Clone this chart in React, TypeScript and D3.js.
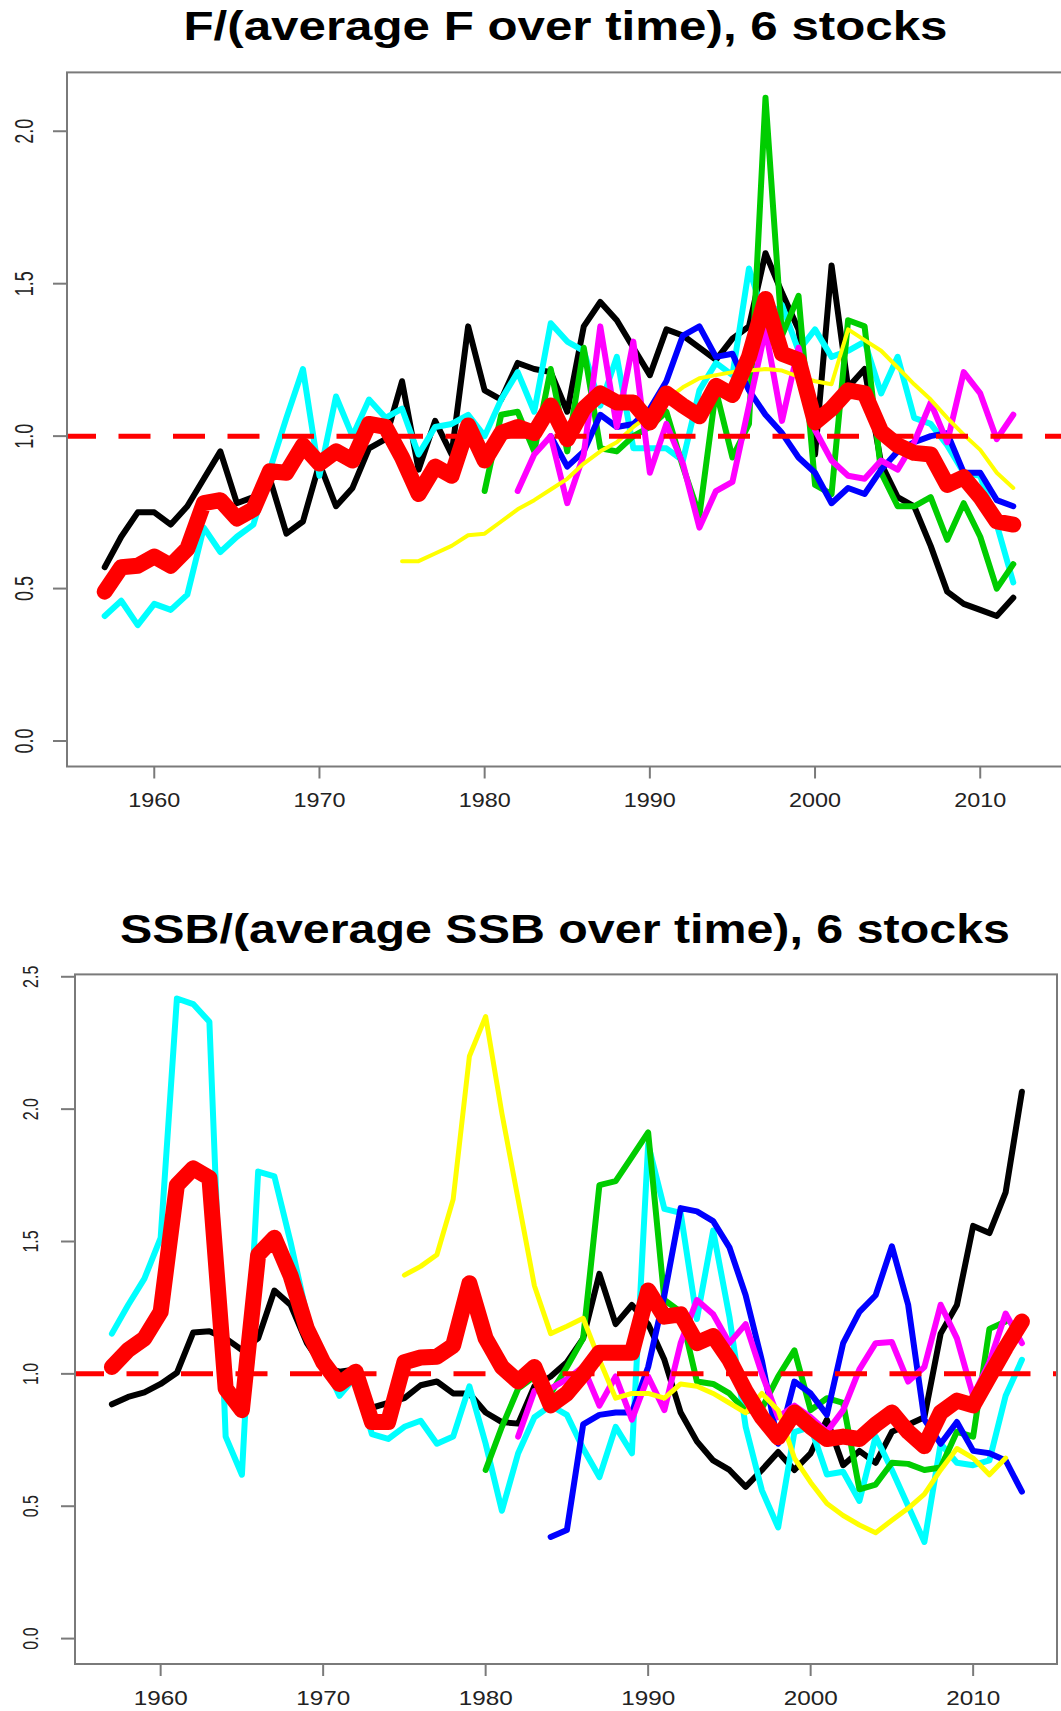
import React from "react";
import * as d3 from "d3";

// ---------- DATA: top panel, F / (average F over time) ----------
const fBlackStart = 1957;
const fBlack = [0.57, 0.67, 0.75, 0.75, 0.71, 0.77, 0.86, 0.95, 0.78, 0.8, 0.86, 0.68, 0.72, 0.91, 0.77, 0.83, 0.96, 0.99, 1.18, 0.89, 1.05, 0.94, 1.36, 1.15, 1.12, 1.24, 1.22, 1.21, 1.08, 1.36, 1.44, 1.38, 1.29, 1.2, 1.35, 1.33, 1.29, 1.25, 1.32, 1.36, 1.6, 1.47, 1.35, 0.94, 1.56, 1.16, 1.22, 0.91, 0.8, 0.77, 0.64, 0.49, 0.45, 0.43, 0.41, 0.47];
const fCyanStart = 1957;
const fCyan = [0.41, 0.46, 0.38, 0.45, 0.43, 0.48, 0.7, 0.62, 0.67, 0.71, 0.89, 1.06, 1.22, 0.87, 1.13, 1.0, 1.12, 1.06, 1.09, 0.94, 1.03, 1.04, 1.07, 1.0, 1.12, 1.21, 1.08, 1.37, 1.31, 1.28, 1.1, 1.26, 0.96, 0.96, 0.96, 0.92, 1.15, 1.24, 1.2, 1.55, 1.38, 1.43, 1.28, 1.35, 1.26, 1.28, 1.31, 1.14, 1.26, 1.06, 1.04, 0.97, 0.88, 0.87, 0.71, 0.52];
const fGreenStart = 1980;
const fGreen = [0.82, 1.07, 1.08, 0.95, 1.22, 0.95, 1.29, 0.96, 0.95, 1.0, 1.03, 1.08, 0.9, 0.74, 1.15, 0.93, 1.04, 2.11, 1.33, 1.46, 0.84, 0.81, 1.38, 1.36, 0.88, 0.77, 0.77, 0.8, 0.66, 0.78, 0.67, 0.5, 0.58];
const fBlueStart = 1984;
const fBlue = [1.0, 0.9, 0.95, 1.07, 1.03, 1.04, 1.09, 1.18, 1.33, 1.36, 1.26, 1.27, 1.15, 1.07, 1.01, 0.93, 0.88, 0.78, 0.83, 0.81, 0.89, 0.95, 0.98, 1.0, 1.01, 0.88, 0.88, 0.79, 0.77];
const fMagentaStart = 1982;
const fMagenta = [0.82, 0.94, 1.0, 0.78, 0.94, 1.36, 1.03, 1.31, 0.88, 1.04, 0.91, 0.7, 0.82, 0.85, 1.1, 1.35, 1.05, 1.29, 1.02, 0.92, 0.87, 0.86, 0.92, 0.89, 0.98, 1.11, 0.98, 1.21, 1.14, 0.99, 1.07];
const fYellowStart = 1975;
const fYellow = [0.59, 0.59, 0.615, 0.64, 0.675, 0.68, 0.72, 0.76, 0.79, 0.825, 0.86, 0.91, 0.95, 0.98, 1.03, 1.07, 1.12, 1.16, 1.19, 1.2, 1.21, 1.215, 1.22, 1.215, 1.195, 1.18, 1.17, 1.35, 1.315, 1.28, 1.225, 1.17, 1.12, 1.06, 1.005, 0.955, 0.88, 0.83];
const fMeanStart = 1957;
const fMean = [0.49, 0.57, 0.575, 0.605, 0.575, 0.63, 0.78, 0.79, 0.73, 0.76, 0.885, 0.88, 0.97, 0.91, 0.95, 0.92, 1.04, 1.03, 0.93, 0.81, 0.9, 0.87, 1.035, 0.92, 1.01, 1.03, 1.01, 1.1, 0.99, 1.09, 1.14, 1.11, 1.11, 1.045, 1.14, 1.1, 1.065, 1.165, 1.135, 1.26, 1.45, 1.27, 1.25, 1.045, 1.09, 1.15, 1.14, 1.015, 0.97, 0.945, 0.94, 0.84, 0.865, 0.8, 0.72, 0.71];

// ---------- DATA: bottom panel, SSB / (average SSB over time) ----------
const sBlackStart = 1957;
const sBlack = [0.885, 0.913, 0.93, 0.962, 1.004, 1.156, 1.161, 1.134, 1.09, 1.134, 1.315, 1.26, 1.116, 1.026, 1.008, 1.017, 0.872, 0.89, 0.908, 0.957, 0.971, 0.926, 0.926, 0.854, 0.818, 0.812, 0.953, 0.99, 1.044, 1.134, 1.378, 1.188, 1.26, 1.188, 1.053, 0.854, 0.745, 0.673, 0.637, 0.573, 0.637, 0.705, 0.637, 0.7, 0.827, 0.655, 0.709, 0.664, 0.781, 0.808, 0.836, 1.152, 1.26, 1.559, 1.532, 1.686, 2.066];
const sCyanStart = 1957;
const sCyan = [1.152, 1.26, 1.36, 1.514, 2.418, 2.397, 2.33, 0.763, 0.619, 1.764, 1.746, 1.496, 1.22, 1.05, 0.917, 0.99, 0.772, 0.754, 0.8, 0.823, 0.736, 0.763, 0.953, 0.736, 0.483, 0.7, 0.836, 0.88, 0.845, 0.718, 0.61, 0.8, 0.7, 1.867, 1.623, 1.608, 1.207, 1.541, 1.216, 0.8, 0.56, 0.42, 0.78, 0.8, 0.62, 0.63, 0.52, 0.763, 0.637, 0.501, 0.365, 0.736, 0.664, 0.655, 0.673, 0.917, 1.053];
const sGreenStart = 1980;
const sGreen = [0.637, 0.8, 0.944, 0.99, 0.926, 1.026, 1.134, 1.713, 1.728, 1.82, 1.912, 1.279, 1.234, 0.971, 0.962, 0.926, 0.86, 0.87, 0.99, 1.089, 0.863, 0.908, 0.89, 0.564, 0.582, 0.664, 0.66, 0.637, 0.646, 0.781, 0.763, 1.17, 1.198];
const sBlueStart = 1984;
const sBlue = [0.384, 0.41, 0.809, 0.845, 0.854, 0.854, 1.026, 1.297, 1.626, 1.614, 1.577, 1.478, 1.297, 1.05, 0.736, 0.971, 0.926, 0.845, 1.116, 1.234, 1.297, 1.482, 1.261, 0.827, 0.736, 0.818, 0.709, 0.7, 0.673, 0.555];
const sMagentaStart = 1982;
const sMagenta = [0.763, 0.935, 0.944, 0.98, 1.026, 0.88, 0.99, 0.827, 0.99, 0.863, 1.116, 1.279, 1.225, 1.116, 1.188, 1.0, 0.836, 0.88, 0.836, 0.781, 0.863, 1.017, 1.116, 1.12, 0.971, 1.026, 1.261, 1.134, 0.917, 1.044, 1.228, 1.116];
const sYellowStart = 1975;
const sYellow = [1.373, 1.406, 1.45, 1.659, 2.2, 2.35, 1.984, 1.659, 1.333, 1.152, 1.18, 1.21, 1.053, 0.908, 0.926, 0.926, 0.908, 0.962, 0.953, 0.926, 0.89, 0.853, 0.926, 0.863, 0.682, 0.59, 0.51, 0.465, 0.429, 0.4, 0.447, 0.492, 0.546, 0.637, 0.718, 0.682, 0.619, 0.682];
const sMeanStart = 1957;
const sMean = [1.026, 1.09, 1.134, 1.234, 1.713, 1.776, 1.74, 0.944, 0.863, 1.45, 1.514, 1.37, 1.17, 1.044, 0.962, 1.008, 0.818, 0.818, 1.044, 1.062, 1.065, 1.107, 1.342, 1.134, 1.026, 0.971, 1.026, 0.881, 0.926, 0.999, 1.08, 1.08, 1.08, 1.315, 1.216, 1.225, 1.116, 1.143, 1.053, 0.935, 0.835, 0.76, 0.854, 0.8, 0.754, 0.763, 0.754, 0.809, 0.854, 0.781, 0.727, 0.854, 0.899, 0.881, 0.99, 1.098, 1.198];

// ---------- ticks / labels ----------
const xTicks = [1960, 1970, 1980, 1990, 2000, 2010];
const fYTicks = [0.0, 0.5, 1.0, 1.5, 2.0];
const sYTicks = [0.0, 0.5, 1.0, 1.5, 2.0, 2.5];
const fTitle = "F/(average F over time), 6 stocks";
const sTitle = "SSB/(average SSB over time), 6 stocks";
const xDomain = [1954.76, 2015.24];

const COLORS = {
  black: "#000000",
  cyan: "#00ffff",
  green: "#00cd00",
  blue: "#0000ff",
  magenta: "#ff00ff",
  yellow: "#ffff00",
  red: "#ff0000",
};

type Series = { start: number; values: number[]; color: string; width: number };

const AXIS = "#7a7a7a";
const LABEL = "#222222";
const FONT = "'Liberation Sans', Arial, Helvetica, sans-serif";

function Panel(props: {
  x0: number; x1: number; yTop: number; yBot: number; yDom: [number, number];
  series: Series[]; mean: Series; yTicks: number[];
  title: string; titleY: number; titleLen: number; titleX: number;
  xLabelY: number; xLabelSize: number; xLabelLen: number;
  yLabelX: number; yLabelSize: number; yLabelScale: number;
  boxLeft: number; boxRight: number;
}) {
  const x = d3.scaleLinear().domain(xDomain).range([props.x0, props.x1]);
  const y = d3.scaleLinear().domain(props.yDom).range([props.yBot, props.yTop]);
  const line = d3
    .line<[number, number]>()
    .x((d) => x(d[0]))
    .y((d) => y(d[1]))
    .curve(d3.curveLinear);
  const pts = (s: Series) => s.values.map((v, i) => [s.start + i, v] as [number, number]);
  const clipId = "clip" + Math.round(props.yTop);
  return (
    <g>
      <defs>
        <clipPath id={clipId}>
          <rect x={props.boxLeft} y={props.yTop} width={props.boxRight - props.boxLeft} height={props.yBot - props.yTop} />
        </clipPath>
      </defs>
      <text
        x={props.titleX}
        y={props.titleY}
        textAnchor="middle"
        fontFamily={FONT}
        fontWeight="bold"
        fontSize={40}
        fill="#000"
        textLength={props.titleLen}
        lengthAdjust="spacingAndGlyphs"
      >
        {props.title}
      </text>
      <g clipPath={`url(#${clipId})`}>
        {props.series.map((s, i) => (
          <path key={i} d={line(pts(s)) || ""} fill="none" stroke={s.color} strokeWidth={s.width} strokeLinejoin="round" strokeLinecap="round" />
        ))}
        <line
          x1={props.boxLeft}
          x2={props.boxRight}
          y1={y(1)}
          y2={y(1)}
          stroke={COLORS.red}
          strokeWidth={5}
          strokeDasharray="32 22.5"
          strokeDashoffset={3}
        />
        <path d={line(pts(props.mean)) || ""} fill="none" stroke={props.mean.color} strokeWidth={props.mean.width} strokeLinejoin="round" strokeLinecap="round" />
      </g>
      <rect
        x={props.boxLeft}
        y={props.yTop}
        width={props.boxRight - props.boxLeft}
        height={props.yBot - props.yTop}
        fill="none"
        stroke={AXIS}
        strokeWidth={2}
      />
      {xTicks.map((t) => (
        <g key={"x" + t}>
          <line x1={x(t)} x2={x(t)} y1={props.yBot} y2={props.yBot + 12} stroke={AXIS} strokeWidth={2} />
          <text
            x={x(t)}
            y={props.xLabelY}
            textAnchor="middle"
            fontFamily={FONT}
            fontSize={props.xLabelSize}
            fill={LABEL}
            textLength={props.xLabelLen}
            lengthAdjust="spacingAndGlyphs"
          >
            {t}
          </text>
        </g>
      ))}
      {props.yTicks.map((t) => (
        <g key={"y" + t}>
          <line x1={props.boxLeft - 14} x2={props.boxLeft} y1={y(t)} y2={y(t)} stroke={AXIS} strokeWidth={2} />
          <g transform={`translate(${props.yLabelX},${y(t)}) scale(${props.yLabelScale},1) rotate(-90)`}>
            <text x={0} y={0} textAnchor="middle" dominantBaseline="central" fontFamily={FONT} fontSize={props.yLabelSize} fill={LABEL}>
              {t.toFixed(1)}
            </text>
          </g>
        </g>
      ))}
    </g>
  );
}

export default function App() {
  const fSeries: Series[] = [
    { start: fBlackStart, values: fBlack, color: COLORS.black, width: 6 },
    { start: fCyanStart, values: fCyan, color: COLORS.cyan, width: 6 },
    { start: fGreenStart, values: fGreen, color: COLORS.green, width: 6 },
    { start: fBlueStart, values: fBlue, color: COLORS.blue, width: 6 },
    { start: fMagentaStart, values: fMagenta, color: COLORS.magenta, width: 6 },
    { start: fYellowStart, values: fYellow, color: COLORS.yellow, width: 4 },
  ];
  const sSeries: Series[] = [
    { start: sBlackStart, values: sBlack, color: COLORS.black, width: 6 },
    { start: sCyanStart, values: sCyan, color: COLORS.cyan, width: 6 },
    { start: sGreenStart, values: sGreen, color: COLORS.green, width: 6 },
    { start: sBlueStart, values: sBlue, color: COLORS.blue, width: 6 },
    { start: sMagentaStart, values: sMagenta, color: COLORS.magenta, width: 6 },
    { start: sYellowStart, values: sYellow, color: COLORS.yellow, width: 5 },
  ];
  return (
    <svg
      width={1061}
      height={1711}
      viewBox="0 0 1061 1711"
      style={{ position: "absolute", left: 0, top: 0, display: "block", background: "#fff" }}
    >
      <rect x={0} y={0} width={1061} height={1711} fill="#fff" />
      <Panel
        x0={67.7}
        x1={1066.8}
        yTop={72.4}
        yBot={766.5}
        yDom={[-0.0836, 2.193]}
        series={fSeries}
        mean={{ start: fMeanStart, values: fMean, color: COLORS.red, width: 16 }}
        yTicks={fYTicks}
        title={fTitle}
        titleX={565.5}
        titleY={40}
        titleLen={764}
        xLabelY={807}
        xLabelSize={21}
        xLabelLen={52}
        yLabelX={24}
        yLabelSize={18}
        yLabelScale={1.45}
        boxLeft={67}
        boxRight={1068}
      />
      <Panel
        x0={75.5}
        x1={1058.3}
        yTop={974.4}
        yBot={1664}
        yDom={[-0.096, 2.509]}
        series={sSeries}
        mean={{ start: sMeanStart, values: sMean, color: COLORS.red, width: 16 }}
        yTicks={sYTicks}
        title={sTitle}
        titleX={565}
        titleY={943}
        titleLen={890}
        xLabelY={1705}
        xLabelSize={20}
        xLabelLen={54}
        yLabelX={30}
        yLabelSize={16}
        yLabelScale={1.4}
        boxLeft={75}
        boxRight={1057}
      />
    </svg>
  );
}
